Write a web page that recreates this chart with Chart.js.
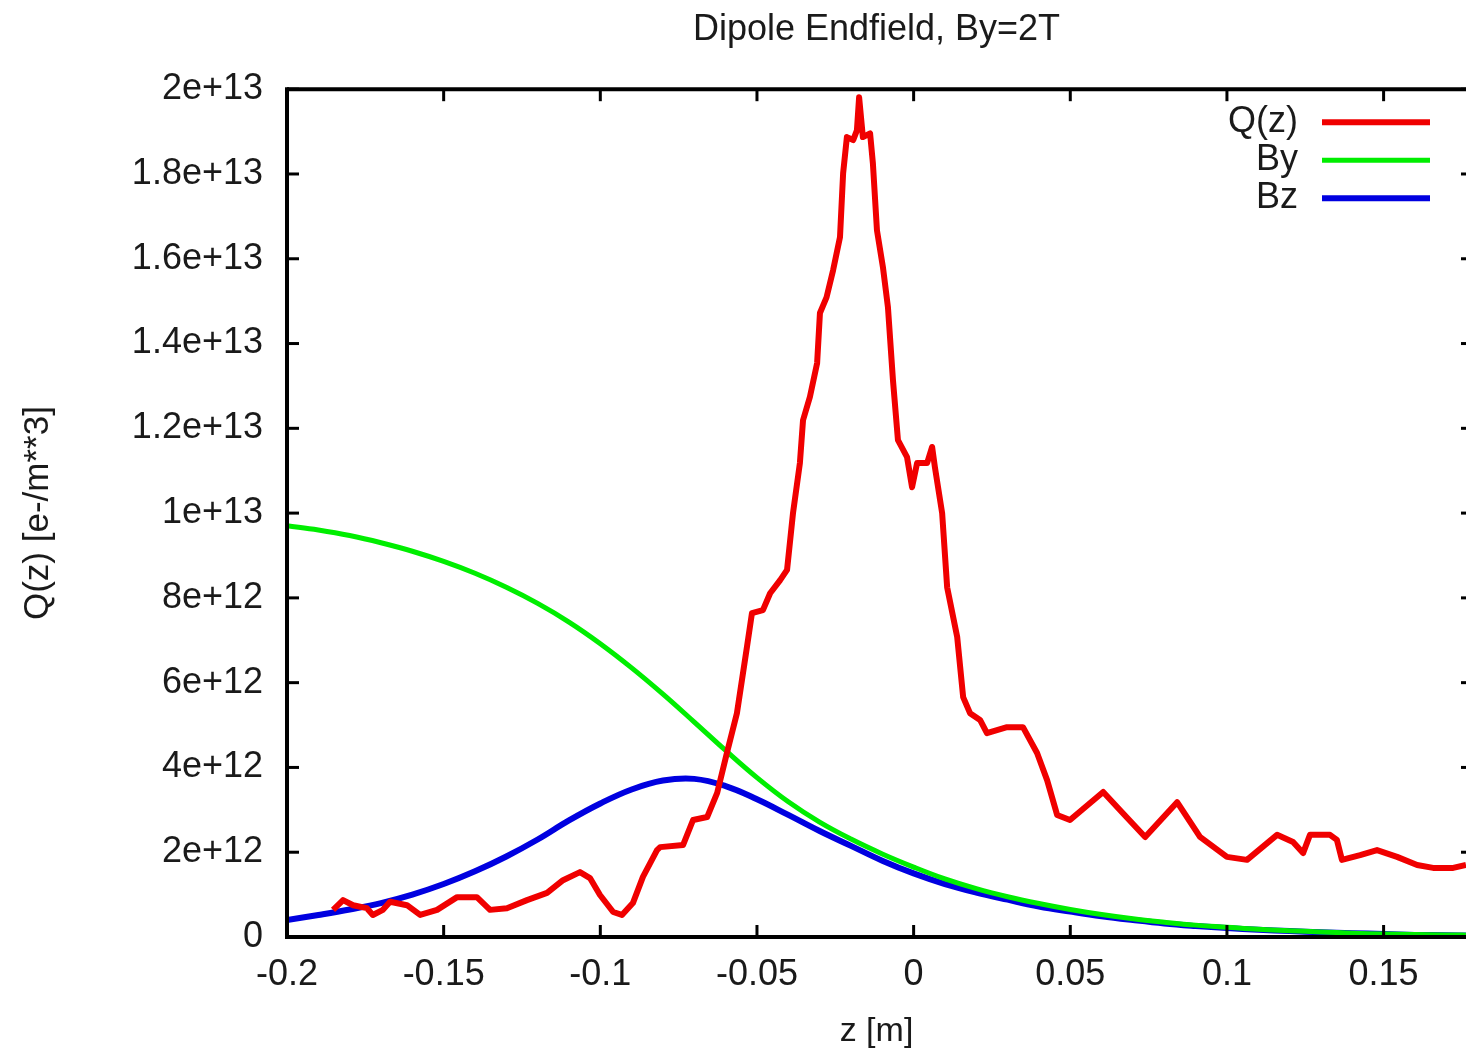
<!DOCTYPE html>
<html>
<head>
<meta charset="utf-8">
<title>Dipole Endfield</title>
<script src="https://cdn.jsdelivr.net/npm/chart.js@4.4.1/dist/chart.umd.min.js"></script>
<style>
  html, body { margin: 0; padding: 0; background: #fff; }
  #wrap { width: 1466px; height: 1054px; }
</style>
</head>
<body>
<div id="wrap"><canvas id="endfield"></canvas></div>
<script>
// Q(z) (z in m, density in units of 1e12 e-/m**3)
const qZ = [-0.1853, -0.1821, -0.1789, -0.1745, -0.1726, -0.1694, -0.1671, -0.1617, -0.1575, -0.1521,
  -0.1457, -0.1394, -0.1352, -0.1298, -0.1234, -0.1170, -0.1119, -0.1065, -0.1033, -0.1001,
  -0.0959, -0.0931, -0.0896, -0.0864, -0.0819, -0.0809, -0.0736, -0.0704, -0.0659, -0.0627,
  -0.0596, -0.0564, -0.0532, -0.0516, -0.0481, -0.0458, -0.0426, -0.0404, -0.0385, -0.0363,
  -0.0353, -0.0331, -0.0308, -0.0299, -0.0278, -0.0257, -0.0235, -0.0225, -0.0213, -0.0193,
  -0.0181, -0.0174, -0.0162, -0.0139, -0.0130, -0.0117, -0.0098, -0.0082, -0.0066, -0.0050,
  -0.0021, -0.0005, 0.0011, 0.0043, 0.0059, 0.0068, 0.0091, 0.0107, 0.0139, 0.0158,
  0.0180, 0.0212, 0.0234, 0.0298, 0.0349, 0.0394, 0.0426, 0.0458, 0.0499, 0.0605,
  0.0668, 0.0739, 0.0841, 0.0914, 0.1000, 0.1064, 0.1160, 0.1211, 0.1243, 0.1265,
  0.1329, 0.1351, 0.1367, 0.1425, 0.1479, 0.1543, 0.1607, 0.1658, 0.1722, 0.1763];
const qDensity = [0.64, 0.87, 0.75, 0.68, 0.52, 0.64, 0.83, 0.75, 0.52, 0.64,
  0.94, 0.94, 0.64, 0.68, 0.87, 1.04, 1.34, 1.53, 1.39, 0.99,
  0.59, 0.52, 0.80, 1.42, 2.05, 2.12, 2.17, 2.76, 2.83, 3.40,
  4.34, 5.28, 6.84, 7.64, 7.71, 8.11, 8.42, 8.66, 10.00, 11.18,
  12.19, 12.74, 13.54, 14.72, 15.09, 15.73, 16.51, 18.02, 18.87, 18.80,
  19.03, 19.81, 18.87, 18.96, 18.25, 16.67, 15.80, 14.86, 13.14, 11.72,
  11.32, 10.61, 11.18, 11.18, 11.56, 11.08, 10.00, 8.25, 7.08, 5.66,
  5.28, 5.12, 4.81, 4.95, 4.95, 4.34, 3.70, 2.88, 2.76, 3.42,
  2.92, 2.36, 3.18, 2.36, 1.89, 1.82, 2.41, 2.24, 1.98, 2.41,
  2.41, 2.29, 1.82, 1.93, 2.05, 1.89, 1.70, 1.63, 1.63, 1.70];

// field curves, same units
const fieldZ = [-0.20, -0.19, -0.18, -0.17, -0.16, -0.15, -0.14, -0.13, -0.12, -0.11,
  -0.10, -0.09, -0.08, -0.07, -0.06, -0.05, -0.04, -0.03, -0.02, -0.01,
  0.00, 0.01, 0.02, 0.03, 0.04, 0.05, 0.06, 0.07, 0.08, 0.09,
  0.10, 0.11, 0.12, 0.13, 0.14, 0.15, 0.16, 0.17, 0.18];
const byField = [9.70, 9.60, 9.47, 9.30, 9.10, 8.86, 8.58, 8.25, 7.87, 7.43,
  6.92, 6.35, 5.73, 5.07, 4.40, 3.76, 3.19, 2.71, 2.31, 1.96,
  1.65, 1.37, 1.14, 0.95, 0.79, 0.65, 0.53, 0.43, 0.35, 0.28,
  0.23, 0.18, 0.15, 0.12, 0.09, 0.07, 0.06, 0.05, 0.04];
const bzField = [0.40, 0.52, 0.65, 0.80, 1.00, 1.25, 1.55, 1.90, 2.30, 2.75,
  3.15, 3.48, 3.69, 3.73, 3.56, 3.25, 2.88, 2.50, 2.15, 1.80,
  1.50, 1.25, 1.05, 0.88, 0.72, 0.60, 0.49, 0.40, 0.32, 0.26,
  0.21, 0.17, 0.14, 0.11, 0.09, 0.07, 0.05, 0.04, 0.03];

const xTicks = [-0.2, -0.15, -0.1, -0.05, 0, 0.05, 0.1, 0.15];
const xTickLabels = ['-0.2', '-0.15', '-0.1', '-0.05', '0', '0.05', '0.1', '0.15'];
const yTicks = [0, 2, 4, 6, 8, 10, 12, 14, 16, 18, 20];
const yTickLabels = ['0', '2e+12', '4e+12', '6e+12', '8e+12', '1e+13', '1.2e+13', '1.4e+13', '1.6e+13', '1.8e+13', '2e+13'];

const seriesNames = ['Q(z)', 'By', 'Bz'];
const seriesColors = ['#f00000', '#00ee00', '#0000e0'];

const FONT = "'Liberation Sans', Arial, sans-serif";
const INK = '#1a1a1a';

Chart.defaults.font.family = FONT;
Chart.defaults.color = INK;

const toPoints = (zs, vs) => zs.map((z, i) => ({x: z, y: vs[i]}));

// gnuplot style frame: inward ticks on every side, plus the key in the top right corner
const gnuplotFrame = {
    id: 'gnuplotFrame',
    afterDatasetsDraw(chart) {
        const {ctx, chartArea: a, scales: {x, y}} = chart;
        const seg = (x1, y1, x2, y2) => {
            ctx.beginPath();
            ctx.moveTo(x1, y1);
            ctx.lineTo(x2, y2);
            ctx.stroke();
        };
        ctx.save();
        ctx.strokeStyle = '#000';
        ctx.lineWidth = 3;
        xTicks.forEach(v => {
            const px = x.getPixelForValue(v);
            seg(px, a.bottom, px, a.bottom - 12);
            seg(px, a.top, px, a.top + 12);
        });
        yTicks.forEach(v => {
            const py = y.getPixelForValue(v);
            seg(a.left, py, a.left + 12, py);
            seg(a.right, py, a.right - 5, py);
        });
        ctx.lineWidth = 4;
        seg(a.left, a.top, a.right, a.top);
        seg(a.left, a.top - 2, a.left, a.bottom + 2);
        seg(a.left, a.bottom, a.right, a.bottom);

        // key
        ctx.font = '36px ' + FONT;
        ctx.fillStyle = INK;
        ctx.textAlign = 'right';
        ctx.textBaseline = 'middle';
        chart.data.datasets.forEach((ds, i) => {
            const ky = a.top + 33 + i * 38;
            ctx.fillText(ds.label, a.right - 168, ky);
            ctx.strokeStyle = ds.borderColor;
            ctx.lineWidth = ds.borderWidth;
            seg(a.right - 144, ky, a.right - 36, ky);
        });
        ctx.restore();
    }
};

new Chart(document.getElementById('endfield'), {
    type: 'line',
    data: {
        datasets: [
            {
                label: seriesNames[0],
                data: toPoints(qZ, qDensity),
                borderColor: seriesColors[0],
                borderWidth: 6,
                pointRadius: 0,
                tension: 0,
                borderJoinStyle: 'round'
            },
            {
                label: seriesNames[1],
                data: toPoints(fieldZ, byField),
                borderColor: seriesColors[1],
                borderWidth: 5,
                pointRadius: 0,
                tension: 0.4
            },
            {
                label: seriesNames[2],
                data: toPoints(fieldZ, bzField),
                borderColor: seriesColors[2],
                borderWidth: 6,
                pointRadius: 0,
                tension: 0.4
            }
        ]
    },
    options: {
        responsive: true,
        maintainAspectRatio: false,
        animation: false,
        layout: { padding: 0 },
        plugins: {
            legend: { display: false },
            tooltip: { enabled: false },
            title: {
                display: true,
                fullSize: false,
                text: 'Dipole Endfield, By=2T',
                color: INK,
                font: { size: 36, weight: 'normal' },
                padding: { top: 8, bottom: 38 }
            }
        },
        scales: {
            x: {
                type: 'linear',
                min: -0.2,
                max: 0.1763,
                afterBuildTicks: s => { s.ticks = xTicks.map(v => ({value: v})); },
                afterFit: s => { s.height = 117; },
                grid: { display: false, drawTicks: false },
                border: { display: false },
                ticks: {
                    color: INK,
                    padding: 16,
                    maxRotation: 0,
                    autoSkip: false,
                    font: { size: 36 },
                    callback: (v, i) => xTickLabels[i]
                },
                title: {
                    display: true,
                    text: 'z [m]',
                    color: INK,
                    font: { size: 34 },
                    padding: { top: 0, bottom: 2 }
                }
            },
            y: {
                min: 0,
                max: 20,
                afterBuildTicks: s => { s.ticks = yTicks.map(v => ({value: v})); },
                afterFit: s => { s.width = 287; },
                grid: { display: false, drawTicks: false },
                border: { display: false },
                ticks: {
                    color: INK,
                    padding: 24,
                    font: { size: 36 },
                    callback: (v, i) => yTickLabels[i]
                },
                title: {
                    display: true,
                    text: 'Q(z) [e-/m**3]',
                    color: INK,
                    font: { size: 35 },
                    padding: { top: 17, bottom: 0 }
                }
            }
        }
    },
    plugins: [gnuplotFrame]
});
</script>
</body>
</html>
